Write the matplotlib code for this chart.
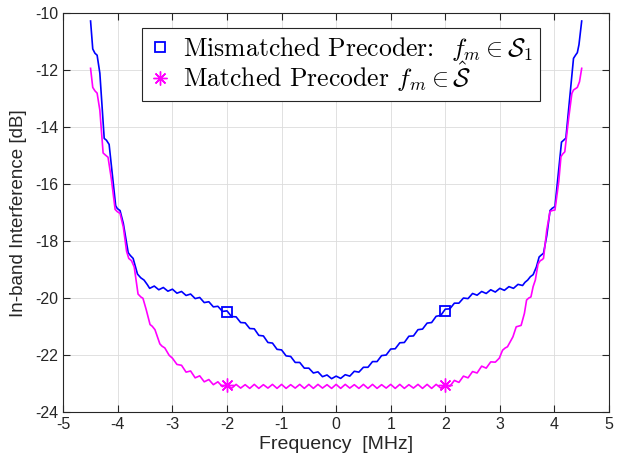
import numpy as np
import matplotlib
matplotlib.use('Agg')
import matplotlib.pyplot as plt

plt.rcParams['font.family'] = ['Liberation Sans', 'DejaVu Sans']
plt.rcParams['mathtext.fontset'] = 'cm'
plt.rcParams['axes.unicode_minus'] = False

# ---- data ----
# mismatched precoder (blue)
blue_x = [-4.50, -4.46, -4.42, -4.38, -4.33, -4.25, -4.21, -4.16, -4.04, -4.01,
          -3.96, -3.90, -3.81, -3.77, -3.72, -3.64, -3.58, -3.52, -3.46,
          -3.417, -3.333, -3.25, -3.167, -3.083, -3.0, -2.917, -2.833, -2.75, -2.667, -2.583, -2.5,
          -2.417, -2.333, -2.25, -2.167, -2.083, -2.0, -1.917, -1.833, -1.75, -1.667, -1.583, -1.5,
          -1.417, -1.333, -1.25, -1.167, -1.083, -1.0, -0.917, -0.833, -0.75, -0.667, -0.583, -0.5,
          -0.417, -0.333, -0.25, -0.167, -0.083, 0.0, 0.083, 0.167, 0.25, 0.333, 0.417, 0.5,
          0.583, 0.667, 0.75, 0.833, 0.917, 1.0, 1.083, 1.167, 1.25, 1.333, 1.417, 1.5,
          1.583, 1.667, 1.75, 1.833, 1.917, 2.0, 2.083, 2.167, 2.25, 2.333, 2.417, 2.5,
          2.583, 2.667, 2.75, 2.833, 2.917, 3.0, 3.083, 3.167, 3.25, 3.333, 3.417,
          3.46, 3.51, 3.56, 3.61, 3.67, 3.72, 3.76, 3.80, 3.86, 3.92, 3.96, 4.01,
          4.13, 4.17, 4.21, 4.35, 4.39, 4.42, 4.45, 4.50]
blue_y = [-10.27, -11.25, -11.40, -11.47, -12.10, -14.39, -14.45, -14.60, -16.75, -16.85,
          -16.92, -17.37, -18.40, -18.50, -18.60, -19.15, -19.28, -19.36, -19.52,
          -19.65, -19.57, -19.70, -19.62, -19.75, -19.68, -19.82, -19.76, -19.90, -19.85,
          -20.01, -19.97, -20.15, -20.12, -20.30, -20.28, -20.46, -20.44, -20.64, -20.65,
          -20.85, -20.86, -21.06, -21.07, -21.30, -21.32, -21.55, -21.57, -21.79, -21.81,
          -22.02, -22.04, -22.25, -22.25, -22.45, -22.45, -22.62, -22.58, -22.75, -22.69,
          -22.82, -22.73, -22.81, -22.68, -22.73, -22.56, -22.59, -22.42, -22.42, -22.22,
          -22.22, -22.01, -21.99, -21.78, -21.77, -21.56, -21.55, -21.33, -21.32, -21.10,
          -21.08, -20.87, -20.85, -20.63, -20.60, -20.38, -20.37, -20.17, -20.17, -19.99,
          -20.01, -19.83, -19.89, -19.76, -19.83, -19.70, -19.78, -19.65, -19.72, -19.59,
          -19.65, -19.51, -19.55,
          -19.44, -19.36, -19.24, -19.17, -18.90, -18.55, -18.48, -18.42, -17.80, -16.92, -16.84, -16.78,
          -14.52, -14.45, -14.38, -11.58, -11.46, -11.38, -11.10, -10.27]

# matched precoder (magenta)
mag_x = [-4.50, -4.46, -4.42, -4.38, -4.33, -4.27, -4.23, -4.18, -4.12, -4.05,
         -4.01, -3.96, -3.90, -3.84, -3.80, -3.75, -3.70, -3.63, -3.58, -3.54,
         -3.48, -3.41, -3.37, -3.32, -3.23, -3.19, -3.14, -3.06, -3.00,
         -2.917, -2.833, -2.75, -2.667, -2.583, -2.5,
         -2.417, -2.333, -2.25, -2.167, -2.083, -2.0, -1.917, -1.833, -1.75, -1.667, -1.583, -1.5,
         -1.417, -1.333, -1.25, -1.167, -1.083, -1.0, -0.917, -0.833, -0.75, -0.667, -0.583, -0.5,
         -0.417, -0.333, -0.25, -0.167, -0.083, 0.0, 0.083, 0.167, 0.25, 0.333, 0.417, 0.5,
         0.583, 0.667, 0.75, 0.833, 0.917, 1.0, 1.083, 1.167, 1.25, 1.333, 1.417, 1.5,
         1.583, 1.667, 1.75, 1.833, 1.917, 2.0, 2.083, 2.167, 2.25, 2.333, 2.417, 2.5,
         2.583, 2.667, 2.75, 2.833, 2.917,
         2.99, 3.05, 3.10, 3.14, 3.24, 3.30, 3.35, 3.39, 3.45, 3.49, 3.53, 3.57,
         3.61, 3.65, 3.70, 3.74, 3.77, 3.80, 3.86, 3.92, 3.96, 4.01, 4.08, 4.12,
         4.15, 4.19, 4.26, 4.32, 4.35, 4.42, 4.46, 4.50]
mag_y = [-11.93, -12.60, -12.72, -12.80, -13.40, -14.90, -14.97, -15.05, -15.80, -16.88,
         -16.96, -17.02, -17.50, -18.35, -18.60, -18.68, -18.90, -19.85, -19.95, -20.00,
         -20.40, -20.92, -20.98, -21.10, -21.60, -21.68, -21.74, -22.00, -22.10,
         -22.32, -22.35, -22.59, -22.55, -22.79, -22.72,
         -22.93, -22.85, -23.03, -22.93, -23.10, -23.02, -23.16, -23.02, -23.15, -23.03, -23.16, -23.02,
         -23.16, -23.03, -23.15, -23.02, -23.16, -23.02, -23.16, -23.03, -23.15, -23.02, -23.16, -23.02,
         -23.16, -23.02, -23.15, -23.03, -23.16, -23.02, -23.16, -23.02, -23.15, -23.03, -23.16, -23.02,
         -23.16, -23.02, -23.16, -23.03, -23.15, -23.02, -23.16, -23.02, -23.16, -23.03, -23.15, -23.02,
         -23.16, -23.02, -23.16, -23.02, -23.15, -23.02, -23.09, -22.88, -22.95, -22.73, -22.79, -22.57,
         -22.62, -22.38, -22.45, -22.23, -22.24,
         -22.10, -21.82, -21.74, -21.70, -21.35, -21.00, -20.97, -20.95, -20.53, -20.06, -19.99, -19.95,
         -19.59, -19.36, -18.80, -18.68, -18.65, -18.60, -17.60, -16.95, -16.92, -16.90, -15.90, -15.03,
         -14.94, -14.86, -13.70, -12.81, -12.69, -12.60, -12.40, -11.93]

mark_x = [-2, 2]
blue_mark_y = [-20.49, -20.43]
mag_mark_y = [-23.05, -23.03]

lab_blue = r'Mismatched Precoder:  $f_m \in \mathcal{S}_1$'
lab_mag = r'Matched Precoder $f_m \in \hat{\mathcal{S}}$'

## figure
fig = plt.figure(figsize=(6.18, 4.66), dpi=100)
ax = fig.add_axes([0.1024, 0.1152, 0.8830, 0.8562])

ax.plot(blue_x, blue_y, color=(0, 0, 1), lw=1.2)
ax.plot(mag_x, mag_y, color=(1, 0, 1), lw=1.2)
ax.plot(mark_x, blue_mark_y, ls='none', marker='s', ms=7.8, mfc='none', mec=(0, 0, 1), mew=1.3, label=lab_blue)
ax.plot(mark_x, mag_mark_y, ls='none', marker=(8, 2, 0), ms=10, mec=(1, 0, 1), mew=1.0, label=lab_mag)

ax.set_xlim(-5, 5)
ax.set_ylim(-24, -10)
ax.set_xticks(np.arange(-5, 6, 1))
ax.set_yticks(np.arange(-24, -9, 2))
ax.grid(True, color='#dcdcdc', lw=0.6)
ax.set_axisbelow(True)
ax.tick_params(direction='in', top=True, right=True, length=5, labelsize=11.5, colors='#262626')
for s in ax.spines.values():
    s.set_color('#262626')
    s.set_linewidth(0.8)
ax.set_xlabel('Frequency  [MHz]', fontsize=14, color='#262626', labelpad=3)
ax.set_ylabel('In-band Interference [dB]', fontsize=13.5, color='#262626', labelpad=6)

leg = ax.legend(loc='upper left', bbox_to_anchor=(0.144, 0.963),
                prop={'family': 'cmr10', 'size': 18.5}, fancybox=False,
                edgecolor='#262626', framealpha=1, handlelength=0.9, handletextpad=0.45,
                borderpad=0.25, labelspacing=-0.1, borderaxespad=0)
leg.get_frame().set_linewidth(0.8)

fig.savefig('out.png', dpi=100)
print('saved out.png')
